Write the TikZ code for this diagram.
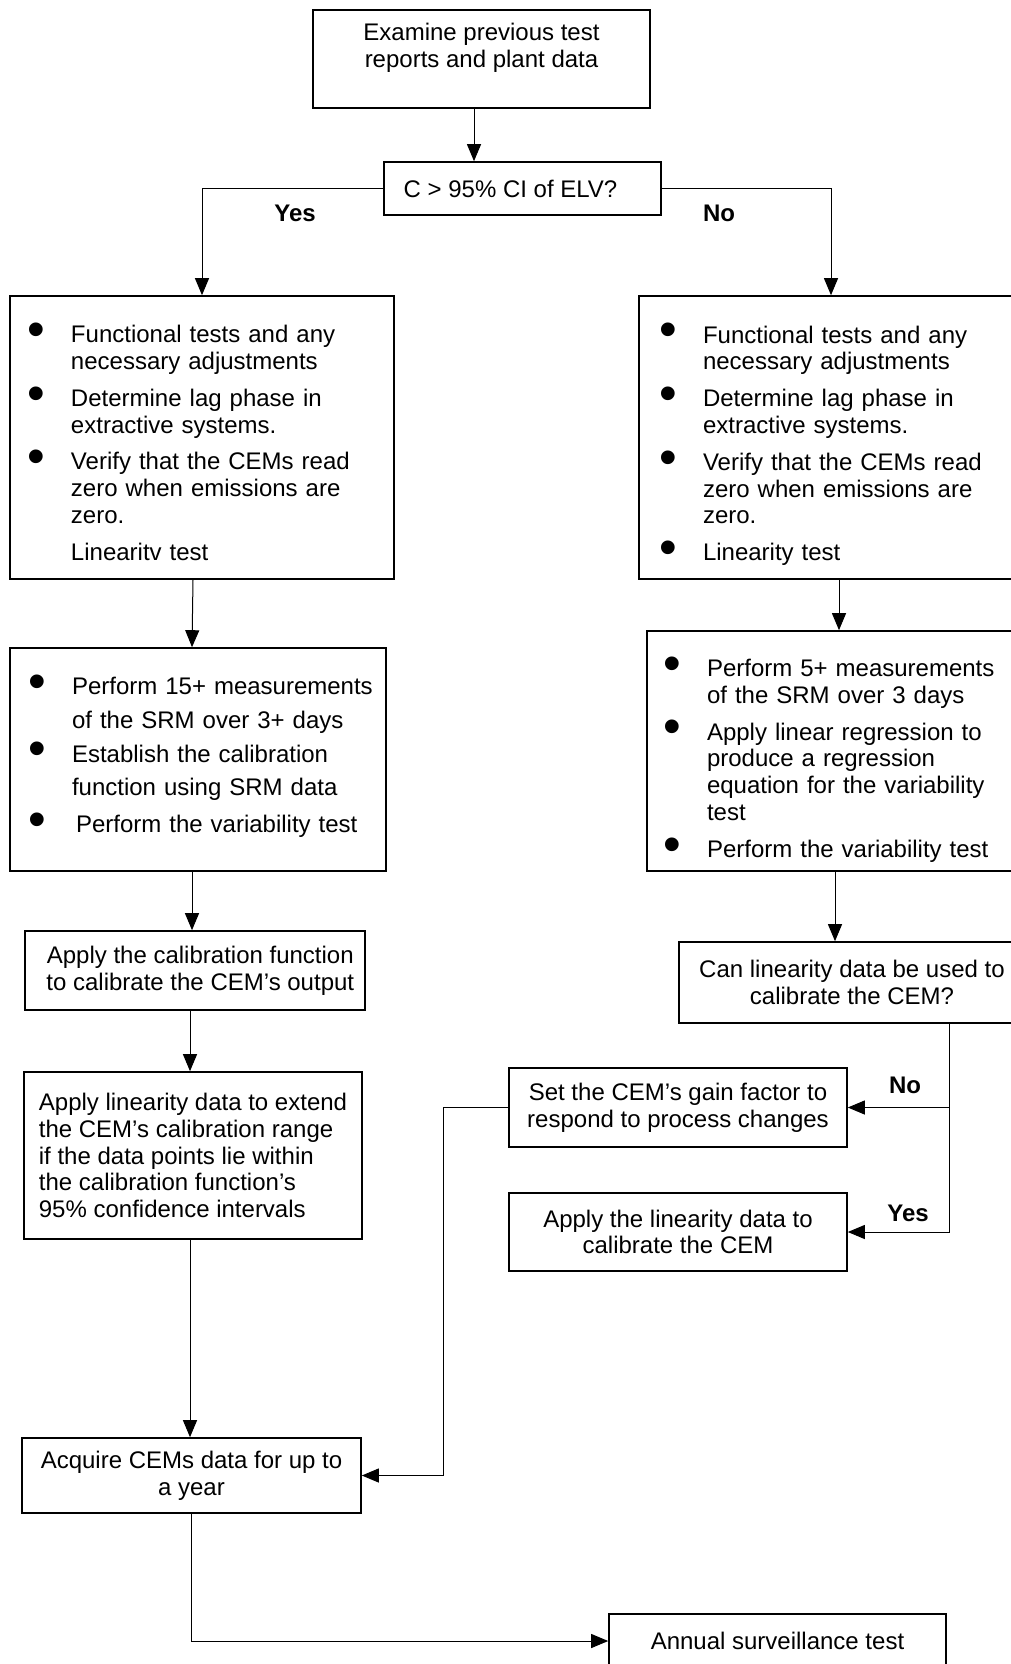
\documentclass[tikz,border=0pt]{standalone}
\usepackage{fontspec}
\setmainfont{Liberation Sans}
\usepackage{tikz}
\usetikzlibrary{arrows.meta}
\usetikzlibrary{positioning}
\setlength{\parindent}{0pt}
\newcommand{\boxfont}{\fontsize{12}{13.4}\selectfont}
\newcommand{\bdot}{\hspace*{1.95pt}\makebox[0pt]{\raisebox{-1.9pt}{\scalebox{2.1}{\textbullet}}}}
\newcommand{\bitem}[1]{\makebox[19.5pt][l]{\bdot}\mbox{#1}}
\newcommand{\bcont}[1]{\hspace*{19.5pt}\mbox{#1}}

\begin{document}
\begin{tikzpicture}[x=0.5pt,y=-0.5pt,
    arr/.style={line width=0.5pt,-{Triangle[length=8.5pt,width=7pt]}}]
    \useasboundingbox (0,0) rectangle (1011,1664);
    \clip (0,0) rectangle (1011,1664);
    \begin{scope}[every node/.style={draw,rectangle,line width=0.8pt,inner sep=0pt,font=\boxfont,align=center}]
    \node[minimum width=168.5pt,minimum height=49pt] (exam) at (481.5,59) {Examine previous test\\reports and plant data\\\mbox{}};
    \node[minimum width=138.5pt,minimum height=26.5pt] (ask) at (522.5,188.5) {C > 95\% CI of ELV?\hspace*{12pt}};
    \node[align=left,text width=170pt,inner xsep=11pt,minimum height=141.5pt] (l1) at (202,437.5) {%
        \rule{0pt}{14.1pt}\bitem{Functional tests and any}\\
        \bcont{necessary adjustments}\\[5pt]
        \bitem{Determine lag phase in}\\
        \bcont{extractive systems.}\\[5pt]
        \bitem{Verify that the CEMs read}\\
        \bcont{zero when emissions are}\\
        \bcont{zero.}\\[5pt]
        \bcont{Linearitv test}};
    \node[align=left,text width=167pt,inner xsep=12.5pt,minimum height=141.5pt] (r1) at (831,437.5) {%
        \rule{0pt}{16.8pt}\bitem{Functional tests and any}\\
        \bcont{necessary adjustments}\\[5pt]
        \bitem{Determine lag phase in}\\
        \bcont{extractive systems.}\\[5pt]
        \bitem{Verify that the CEMs read}\\
        \bcont{zero when emissions are}\\
        \bcont{zero.}\\[5pt]
        \bitem{Linearity test}};
    \node[align=left,text width=165pt,inner xsep=11.5pt,minimum height=111.5pt] (l2) at (198,759.5) {%
        \bitem{Perform 15+ measurements}\\[3.4pt]
        \bcont{of the SRM over 3+ days}\\[3.4pt]
        \bitem{Establish the calibration}\\[3.4pt]
        \bcont{function using SRM data}\\[5pt]
        \bitem{\hspace{2pt}Perform the variability test}\rule[-5.7pt]{0pt}{0pt}};
    \node[align=left,text width=168pt,inner xsep=10.5pt,minimum height=120pt] (r2) at (836,751) {%
        \rule{0pt}{18.3pt}\bitem{Perform 5+ measurements}\\
        \bcont{of the SRM over 3 days}\\[5pt]
        \bitem{Apply linear regression to}\\
        \bcont{produce a regression}\\
        \bcont{equation for the variability}\\
        \bcont{test}\\[5pt]
        \bitem{Perform the variability test}};
    \node[minimum width=170pt,minimum height=39.5pt] (l3) at (195,970.5) {\hspace*{5.3pt}Apply the calibration function\\\hspace*{5.3pt}to calibrate the CEM’s output};
    \node[minimum width=173pt,minimum height=40.5pt] (r3) at (852,982.5) {Can linearity data be used to\\calibrate the CEM?};
    \node[align=left,minimum width=169pt,minimum height=83.5pt] (l4) at (193,1155.5) {Apply linearity data to extend\\the CEM’s calibration range\\if the data points lie within\\the calibration function’s\\95\% confidence intervals};
    \node[minimum width=169pt,minimum height=39.5pt] (r4) at (678,1107.5) {Set the CEM’s gain factor to\\respond to process changes};
    \node[minimum width=169pt,minimum height=39pt] (r5) at (678,1232) {Apply the linearity data to\\calibrate the CEM};
    \node[minimum width=169.5pt,minimum height=37.5pt] (l5) at (191.5,1475.5) {Acquire CEMs data for up to\\a year};
    \node[minimum width=168.5pt,minimum height=27pt] (ann) at (777.5,1641) {Annual surveillance test};
    \end{scope}
    \begin{scope}[every node/.style={font=\boxfont\bfseries}]
    \node (yes1) at (295,213) {Yes};
    \node (no1) at (719,213) {No};
    \node (no2) at (905,1085) {No};
    \node (yes2) at (908,1213) {Yes};
    \end{scope}
    \begin{scope}[every edge/.style={draw,arr}]
    \path (exam.south -| 474,0) edge (ask.north -| 474,0);
    \path (l1.south -| 193,0) edge (l2.north -| 192,0);
    \path (r1.south -| 839,0) edge (r2.north -| 839,0);
    \path (l2.south -| 192,0) edge (l3.north -| 192,0);
    \path (r2.south -| 835,0) edge (r3.north -| 835,0);
    \path (l3.south -| 190,0) edge (l4.north -| 190,0);
    \path (l4.south -| 190,0) edge (l5.north -| 190,0);
    \path (r4.east -| 949,0) edge (r4.east);
    \end{scope}
    \draw[arr] (ask.west) -| (l1.north);
    \draw[arr] (ask.east) -| (r1.north);
    \draw[arr] (r3.south -| 949,0) |- (r5.east);
    \draw[arr] (r4.west) -- ++(-65,0) |- (l5.east);
    \draw[arr] (l5.south) |- (ann.west);
\end{tikzpicture}
\end{document}
